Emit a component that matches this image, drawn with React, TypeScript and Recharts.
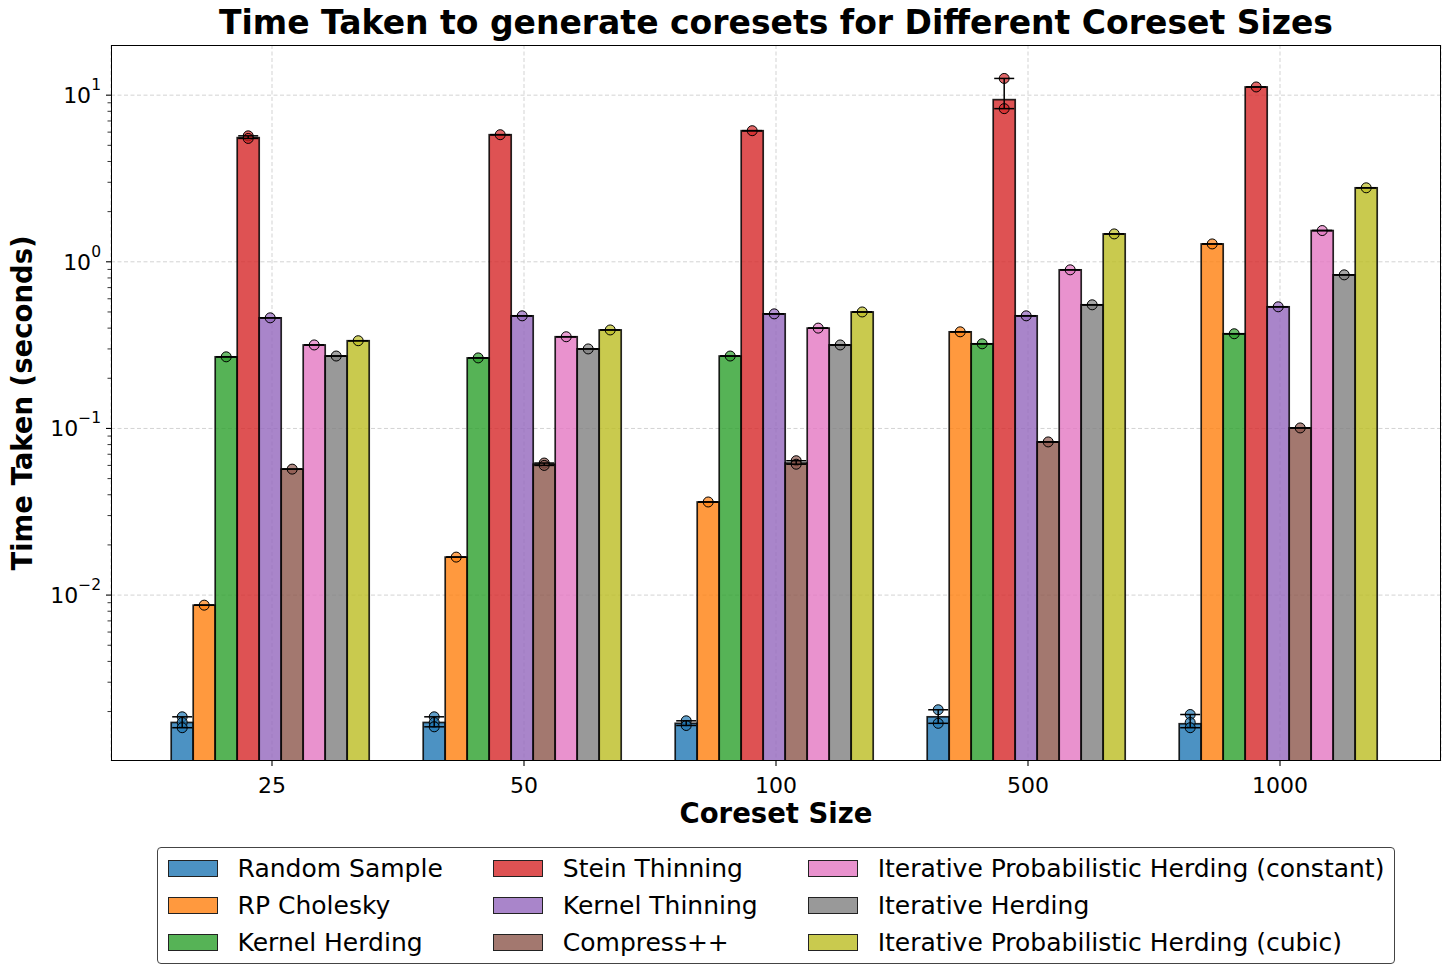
import React from 'react';
import { BarChart, Bar, XAxis, YAxis, CartesianGrid, ErrorBar } from 'recharts';

const categories = ['25', '50', '100', '500', '1000'];

const seriesNames = [
  'Random Sample',
  'RP Cholesky',
  'Kernel Herding',
  'Stein Thinning',
  'Kernel Thinning',
  'Compress++',
  'Iterative Probabilistic Herding (constant)',
  'Iterative Herding',
  'Iterative Probabilistic Herding (cubic)',
];
const seriesColors = ['#1f77b4', '#ff7f0e', '#2ca02c', '#d62728', '#9467bd', '#8c564b', '#e377c2', '#7f7f7f', '#bcbd22'];

// mean time (seconds) per coreset size
const randomSample = [0.00172, 0.00172, 0.0017, 0.00186, 0.00169];
const rpCholesky = [0.0087, 0.0169, 0.0362, 0.38, 1.28];
const kernelHerding = [0.269, 0.265, 0.272, 0.322, 0.37];
const steinThinning = [5.56, 5.79, 6.12, 9.4, 11.2];
const kernelThinning = [0.461, 0.474, 0.487, 0.474, 0.537];
const compressPP = [0.057, 0.061, 0.062, 0.083, 0.1007];
const iphConstant = [0.317, 0.355, 0.4, 0.895, 1.54];
const iterativeHerding = [0.272, 0.3, 0.317, 0.552, 0.835];
const iphCubic = [0.336, 0.39, 0.5, 1.47, 2.78];

// individual runs where they spread out visibly (others: one point on the mean)
const randomSampleRuns = [
  [0.00186, 0.00172, 0.0016],
  [0.00186, 0.00172, 0.00162],
  [0.00176, 0.00165],
  [0.00205, 0.0017],
  [0.00192, 0.00172, 0.0016],
];
const steinRuns = [[5.7, 5.5], [5.79], [6.12], [12.6, 8.3], [11.2]];
const compressRuns = [[0.057], [0.062, 0.06], [0.064, 0.061], [0.083], [0.1007]];

const majorTicks = [0.01, 0.1, 1, 10];
const minorTicks = [
  0.002, 0.003, 0.004, 0.005, 0.006, 0.007, 0.008, 0.009,
  0.02, 0.03, 0.04, 0.05, 0.06, 0.07, 0.08, 0.09,
  0.2, 0.3, 0.4, 0.5, 0.6, 0.7, 0.8, 0.9,
  2, 3, 4, 5, 6, 7, 8, 9,
];

const Y_MIN = 0.00101;
const Y_MAX = 20;
const FONT = '"DejaVu Sans", sans-serif';

const means = [randomSample, rpCholesky, kernelHerding, steinThinning, kernelThinning, compressPP, iphConstant, iterativeHerding, iphCubic];
const runs: (number[][] | null)[] = [randomSampleRuns, null, null, steinRuns, null, compressRuns, null, null, null];
const keys = means.map((_, i) => `s${i}`);

const runsOf = (s: number, i: number) => (runs[s] ? runs[s]![i] : [means[s][i]]);

const data = categories.map((name, i) => {
  const row: any = { name };
  keys.forEach((k, s) => {
    const v = means[s][i];
    const r = runsOf(s, i);
    row[k] = v;
    row[k + 'err'] = [Math.max(0, v - Math.min(...r)), Math.max(0, Math.max(...r) - v)];
  });
  return row;
});

const makeShape = (s: number) => (props: any) => {
  const { x, y, width, height, index } = props;
  const v = means[s][index];
  const perDecade = height / (Math.log10(v) - Math.log10(Y_MIN));
  const cx = x + width / 2;
  const color = seriesColors[s];
  return (
    <g>
      <rect x={x} y={y} width={width} height={height} fill={color} fillOpacity={0.8}
        stroke="#000" strokeOpacity={0.85} strokeWidth={1.7} />
      {runsOf(s, index).map((p, j) => (
        <circle key={j} cx={cx} cy={y + (Math.log10(v) - Math.log10(p)) * perDecade} r={5}
          fill={color} fillOpacity={0.7} stroke="#000" strokeWidth={1} />
      ))}
    </g>
  );
};

const LogTick = (props: any) => {
  const { x, y, payload } = props;
  const lg = Math.log10(payload.value);
  const e = Math.round(lg);
  if (Math.abs(lg - e) > 1e-6) {
    return <line x1={x - 3.5} x2={x} y1={y} y2={y} stroke="#000" strokeWidth={0.8} />;
  }
  return (
    <g>
      <line x1={x - 5} x2={x} y1={y} y2={y} stroke="#000" strokeWidth={1.1} />
      <text x={x - 10} y={y} textAnchor="end" fontSize={22} fill="#000" fontFamily={FONT}>
        <tspan dy="0.36em">10</tspan>
        <tspan fontSize={15.5} dy="-0.85em">{e < 0 ? '\u2212' + -e : String(e)}</tspan>
      </text>
    </g>
  );
};

const Legend = () => (
  <div style={{ position: 'absolute', left: 111, top: 847, width: 1330, display: 'flex', justifyContent: 'center' }}>
    <div
      style={{
        border: '1px solid #444',
        borderRadius: 4,
        padding: '8px 10px',
        display: 'grid',
        gridAutoFlow: 'column',
        gridTemplateRows: 'repeat(3, 25px)',
        rowGap: 12,
        columnGap: 50,
        background: '#fff',
      }}
    >
      {seriesNames.map((n, i) => (
        <div key={n} style={{ display: 'flex', alignItems: 'center', fontSize: 25, lineHeight: '25px', whiteSpace: 'nowrap' }}>
          <span
            style={{
              display: 'inline-block',
              width: 50,
              height: 17.5,
              boxSizing: 'border-box',
              background: seriesColors[i] + 'cc',
              border: '1.5px solid #222',
              marginRight: 20,
            }}
          />
          {n}
        </div>
      ))}
    </div>
  </div>
);

export default function App() {
  return (
    <div style={{ position: 'absolute', left: 0, top: 0, width: 1452, height: 974, background: '#fff', fontFamily: FONT, color: '#000' }}>
      <div style={{ position: 'absolute', left: 111, top: 6, width: 1330, textAlign: 'center', fontSize: 33, fontWeight: 'bold', lineHeight: 1 }}>
        Time Taken to generate coresets for Different Coreset Sizes
      </div>
      <BarChart
        width={1452}
        height={974}
        data={data}
        margin={{ top: 45, right: 11, bottom: 183, left: 51 }}
        barGap={0}
        barCategoryGap="10%"
      >
        <CartesianGrid stroke="#d3d3d3" strokeDasharray="4 2.5" horizontalValues={majorTicks} />
        <XAxis
          dataKey="name"
          padding={{ left: 35, right: 35 }}
          height={30}
          interval={0}
          axisLine={false}
          tickSize={5}
          tickMargin={11}
          tickLine={{ stroke: '#000', strokeWidth: 1.1 }}
          tick={{ fontSize: 22, fill: '#000', fontFamily: FONT }}
        />
        <YAxis
          scale="log"
          domain={[Y_MIN, Y_MAX]}
          allowDataOverflow
          ticks={[...minorTicks, ...majorTicks]}
          interval={0}
          width={60}
          axisLine={false}
          tickLine={false}
          tickSize={0}
          tickMargin={0}
          tick={<LogTick />}
        />
        {keys.map((k, s) => (
          <Bar key={k} dataKey={k} name={seriesNames[s]} fill={seriesColors[s]} isAnimationActive={false} shape={makeShape(s)}>
            <ErrorBar dataKey={k + 'err'} width={10} stroke="#000" strokeWidth={1.5} direction="y" />
          </Bar>
        ))}
      </BarChart>
      <div style={{ position: 'absolute', left: 111, top: 45, width: 1330, height: 716, boxSizing: 'border-box', border: '1.2px solid #000', pointerEvents: 'none' }} />
      <div style={{ position: 'absolute', left: 111, top: 800, width: 1330, textAlign: 'center', fontSize: 27.5, fontWeight: 'bold', lineHeight: 1 }}>
        Coreset Size
      </div>
      <div
        style={{
          position: 'absolute',
          left: 23,
          top: 403,
          transform: 'translate(-50%, -50%) rotate(-90deg)',
          fontSize: 27.5,
          fontWeight: 'bold',
          lineHeight: 1,
          whiteSpace: 'nowrap',
        }}
      >
        Time Taken (seconds)
      </div>
      <Legend />
    </div>
  );
}
